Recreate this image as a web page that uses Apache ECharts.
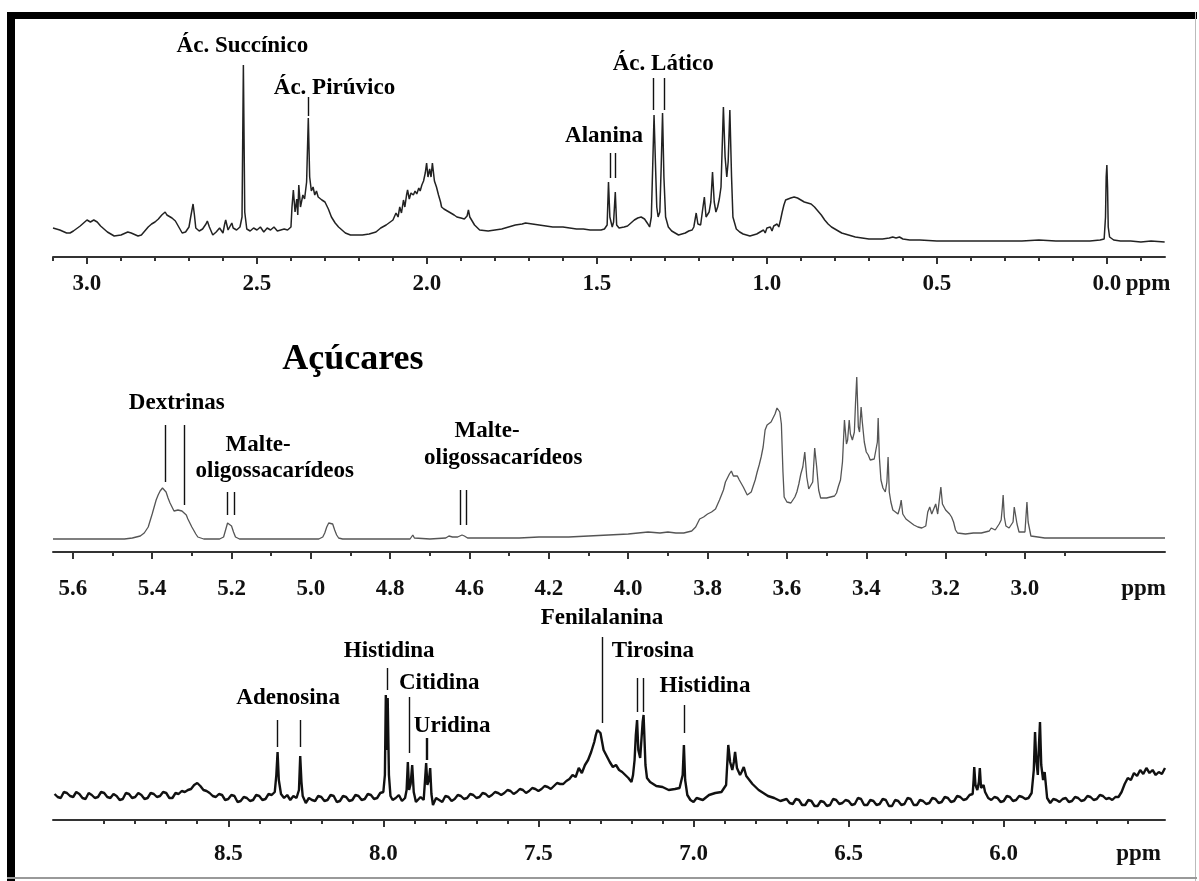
<!DOCTYPE html>
<html><head><meta charset="utf-8">
<script src="https://cdn.jsdelivr.net/npm/echarts@6.0.0/dist/echarts.min.js"></script>
<style>html,body{margin:0;padding:0;background:#fff}#c{width:1199px;height:881px}</style>
</head><body><div id="c"></div>
<script>
// ---------- Panel 1 (0 – 3 ppm) ----------
const spec1 = [[3.10,29],[3.08,27],[3.06,24],[3.05,24],[3.04,26],[3.02,31],[3.01,34],[3.00,37],[2.99,35],[2.98,37],[2.97,35],[2.96,31],[2.95,28],[2.94,25],[2.92,21],[2.90,22],[2.88,25],[2.87,24],[2.85,21],[2.84,22],[2.82,30],[2.81,33],[2.80,35],[2.79,38],[2.78,42],[2.77,45],[2.765,42],[2.76,44],[2.75,39],[2.74,36],[2.73,30],[2.72,24],[2.71,25],[2.70,30],[2.695,40],[2.688,53],[2.684,42],[2.68,29],[2.67,26],[2.66,28],[2.65,33],[2.646,36],[2.64,30],[2.63,22],[2.62,25],[2.61,29],[2.60,24],[2.595,33],[2.592,37],[2.585,27],[2.58,26],[2.574,34],[2.57,29],[2.56,27],[2.55,30],[2.544,40],[2.540,192],[2.536,45],[2.53,28],[2.52,26],[2.51,29],[2.50,27],[2.49,30],[2.48,25],[2.47,29],[2.46,27],[2.45,30],[2.44,26],[2.43,27],[2.42,28],[2.41,27],[2.40,30],[2.397,50],[2.393,67],[2.388,45],[2.383,58],[2.38,42],[2.377,72],[2.372,50],[2.365,62],[2.36,58],[2.354,75],[2.349,139],[2.345,80],[2.34,66],[2.335,70],[2.33,62],[2.325,66],[2.32,60],[2.315,62],[2.309,57],[2.30,55],[2.29,48],[2.281,40],[2.27,34],[2.26,30],[2.25,27],[2.24,24],[2.225,22],[2.21,22],[2.19,22],[2.17,23],[2.15,25],[2.136,29],[2.12,32],[2.10,37],[2.091,44],[2.085,40],[2.08,50],[2.075,44],[2.069,57],[2.065,50],[2.06,62],[2.057,67],[2.052,58],[2.047,64],[2.04,62],[2.035,66],[2.03,63],[2.024,69],[2.02,66],[2.015,72],[2.01,76],[2.005,84],[2.001,94],[1.997,80],[1.992,88],[1.988,80],[1.984,94],[1.978,76],[1.972,70],[1.966,62],[1.96,55],[1.957,50],[1.95,48],[1.94,46],[1.93,44],[1.92,42],[1.912,40],[1.90,39],[1.89,38],[1.882,41],[1.878,47],[1.874,40],[1.86,32],[1.845,27],[1.82,26],[1.80,27],[1.78,28],[1.76,30],[1.74,32],[1.72,33],[1.71,34],[1.69,33],[1.67,32],[1.65,31],[1.63,30],[1.60,30],[1.58,29],[1.56,28],[1.54,28],[1.52,27],[1.50,27],[1.488,27],[1.478,28],[1.47,32],[1.466,75],[1.462,40],[1.455,30],[1.451,35],[1.446,65],[1.442,32],[1.435,29],[1.43,28],[1.42,30],[1.41,31],[1.40,34],[1.39,37],[1.38,39],[1.37,40],[1.36,38],[1.35,33],[1.345,30],[1.34,40],[1.336,90],[1.332,142],[1.328,95],[1.324,50],[1.32,40],[1.315,45],[1.311,90],[1.307,144],[1.303,80],[1.298,40],[1.29,30],[1.28,26],[1.27,24],[1.26,22],[1.25,23],[1.24,24],[1.23,26],[1.22,27],[1.215,30],[1.208,44],[1.203,33],[1.195,32],[1.19,45],[1.184,60],[1.179,40],[1.175,38],[1.17,45],[1.165,55],[1.16,85],[1.155,55],[1.15,45],[1.145,50],[1.14,58],[1.135,70],[1.128,150],[1.123,100],[1.118,80],[1.114,95],[1.109,147],[1.104,80],[1.10,40],[1.09,28],[1.08,25],[1.07,23],[1.06,22],[1.05,21],[1.04,22],[1.03,23],[1.02,25],[1.01,27],[1.005,24],[1.00,29],[0.995,27],[0.99,30],[0.985,26],[0.98,31],[0.975,29],[0.97,33],[0.965,30],[0.96,37],[0.955,45],[0.95,52],[0.945,57],[0.94,58],[0.93,59],[0.92,60],[0.91,59],[0.90,57],[0.89,55],[0.88,54],[0.875,52],[0.87,53],[0.86,50],[0.85,46],[0.84,42],[0.83,37],[0.82,33],[0.81,30],[0.80,28],[0.79,26],[0.78,24],[0.76,22],[0.74,20],[0.72,19],[0.70,18],[0.68,18],[0.66,18],[0.64,19],[0.63,20],[0.62,19],[0.61,20],[0.60,18],[0.58,17],[0.55,17],[0.50,16],[0.45,16],[0.40,16],[0.35,16],[0.30,16],[0.25,16],[0.20,17],[0.15,16],[0.10,16],[0.05,16],[0.02,17],[0.008,18],[0.004,40],[0.002,80],[0.0,92],[-0.002,70],[-0.004,30],[-0.008,20],[-0.02,17],[-0.04,16],[-0.07,16],[-0.10,15],[-0.13,16],[-0.17,15]];
const marks1 = [[2.349,160,141],[1.460,104,79],[1.446,104,79],[1.335,179,147],[1.302,179,147]];
const names1 = [['Ác. Succínico',2.543,211],['Ác. Pirúvico',2.272,169],['Alanina',1.479,121],['Ác. Lático',1.305,193]];
const ticks1 = [3.0,2.5,2.0,1.5,1.0,0.5,0.0];
const minor1 = [3.1,2.9,2.8,2.7,2.6,2.4,2.3,2.2,2.1,1.9,1.8,1.7,1.6,1.4,1.3,1.2,1.1,0.9,0.8,0.7,0.6,0.4,0.3,0.2,0.1,-0.1];
const unit1 = -0.121;

// ---------- Panel 2 (açúcares) ----------
const spec2 = [[5.65,13],[5.60,13],[5.55,13],[5.50,13],[5.47,13],[5.45,14],[5.43,16],[5.42,19],[5.41,25],[5.40,38],[5.39,52],[5.385,57],[5.38,61],[5.374,64],[5.37,62],[5.365,60],[5.36,54],[5.355,49],[5.35,45],[5.345,41],[5.34,39],[5.335,42],[5.331,44],[5.325,41],[5.32,40],[5.314,37],[5.31,33],[5.30,25],[5.29,18],[5.285,15],[5.27,13],[5.25,13],[5.23,13],[5.22,15],[5.215,22],[5.21,29],[5.205,28],[5.20,26],[5.195,20],[5.19,15],[5.18,13],[5.12,13],[5.05,13],[4.98,13],[4.97,15],[4.965,19],[4.96,25],[4.955,29],[4.952,30],[4.945,28],[4.94,22],[4.935,17],[4.93,14],[4.92,13],[4.85,13],[4.80,13],[4.75,13],[4.746,15],[4.743,17],[4.739,14],[4.70,13],[4.66,14],[4.652,16],[4.648,18],[4.643,15],[4.63,15],[4.625,16],[4.619,17],[4.613,16],[4.605,14],[4.55,14],[4.45,14],[4.35,14],[4.25,15],[4.15,15],[4.10,16],[4.05,17],[4.00,18],[3.95,20],[3.92,19],[3.90,20],[3.88,19],[3.86,19],[3.84,21],[3.83,25],[3.82,33],[3.81,35],[3.80,38],[3.79,40],[3.78,43],[3.77,52],[3.76,62],[3.755,70],[3.75,72],[3.745,78],[3.74,81],[3.735,76],[3.73,74],[3.725,76],[3.72,72],[3.71,65],[3.70,57],[3.695,55],[3.69,60],[3.685,66],[3.68,72],[3.675,80],[3.67,87],[3.665,95],[3.66,105],[3.655,122],[3.65,127],[3.645,128],[3.64,130],[3.635,131],[3.63,138],[3.625,144],[3.622,146],[3.618,140],[3.614,128],[3.61,80],[3.607,55],[3.60,50],[3.595,51],[3.59,49],[3.58,55],[3.575,60],[3.57,68],[3.565,78],[3.56,85],[3.555,100],[3.55,75],[3.545,63],[3.54,62],[3.535,70],[3.53,104],[3.525,85],[3.52,62],[3.515,54],[3.51,52],[3.50,54],[3.495,52],[3.49,55],[3.48,56],[3.475,59],[3.47,66],[3.465,72],[3.46,90],[3.455,132],[3.45,108],[3.447,112],[3.443,132],[3.44,118],[3.435,112],[3.43,120],[3.427,150],[3.424,175],[3.42,125],[3.417,120],[3.413,145],[3.41,130],[3.405,110],[3.40,100],[3.395,97],[3.39,92],[3.385,90],[3.38,93],[3.375,95],[3.372,110],[3.37,134],[3.367,95],[3.363,72],[3.358,64],[3.352,60],[3.348,70],[3.345,95],[3.342,60],[3.338,50],[3.333,42],[3.328,40],[3.32,38],[3.315,45],[3.312,52],[3.308,38],[3.30,33],[3.29,30],[3.28,27],[3.27,25],[3.26,24],[3.25,26],[3.245,40],[3.24,45],[3.235,38],[3.23,40],[3.225,48],[3.22,38],[3.215,55],[3.212,65],[3.208,48],[3.20,42],[3.195,40],[3.19,38],[3.185,35],[3.18,30],[3.175,22],[3.17,19],[3.15,18],[3.13,19],[3.11,19],[3.10,20],[3.09,21],[3.085,24],[3.08,25],[3.075,22],[3.07,24],[3.065,28],[3.06,32],[3.057,45],[3.055,57],[3.052,35],[3.048,26],[3.04,24],[3.035,22],[3.03,30],[3.027,45],[3.024,45],[3.02,28],[3.015,20],[3.00,20],[2.998,32],[2.995,50],[2.992,30],[2.985,16],[2.98,14],[2.95,14],[2.90,14],[2.85,14],[2.80,14],[2.75,14],[2.70,14],[2.647,14]];
const marks2 = [[5.368,127,70],[5.320,127,47],[5.212,60,37],[5.194,60,37],[4.624,62,27],[4.609,62,27]];
const names2 = [['Dextrinas',5.338,149],['Malte-',5.133,107],['oligossacarídeos',5.091,81],['Malte-',4.512,121],['oligossacarídeos',4.43,94]];
const title2 = ['Açúcares',4.894,192];
const ticks2 = [5.6,5.4,5.2,5.0,4.8,4.6,4.2,4.0,3.8,3.6,3.4,3.2,3.0];
const minor2 = [5.5,5.3,5.1,4.9,4.7,4.4,4.1,3.9,3.7,3.5,3.3,3.1,2.9];
const unit2 = 2.701;

// ---------- Panel 3 (aromatic) ----------
const spec3 = [[9.06,26],[9.05,23],[9.04,22],[9.03,28],[9.02,27],[9.01,24],[9.00,23],[8.99,28],[8.98,26],[8.97,22],[8.96,21],[8.95,27],[8.94,25],[8.93,22],[8.92,23],[8.91,28],[8.90,27],[8.89,23],[8.88,22],[8.87,26],[8.86,24],[8.85,20],[8.84,21],[8.83,27],[8.82,26],[8.81,22],[8.80,23],[8.79,27],[8.78,25],[8.77,21],[8.76,22],[8.75,27],[8.74,26],[8.73,23],[8.72,24],[8.71,28],[8.70,27],[8.69,22],[8.68,22],[8.67,27],[8.66,26],[8.65,29],[8.64,28],[8.63,30],[8.62,31],[8.61,35],[8.60,37],[8.59,34],[8.58,30],[8.57,29],[8.56,27],[8.55,24],[8.54,23],[8.53,26],[8.52,25],[8.51,20],[8.50,21],[8.49,25],[8.48,24],[8.47,18],[8.46,19],[8.45,23],[8.44,22],[8.43,19],[8.42,20],[8.41,25],[8.40,24],[8.39,20],[8.38,21],[8.37,26],[8.36,25],[8.35,28],[8.345,45],[8.341,68],[8.337,40],[8.33,26],[8.32,22],[8.31,25],[8.30,20],[8.29,24],[8.28,22],[8.272,30],[8.268,64],[8.264,38],[8.26,24],[8.25,17],[8.24,22],[8.23,20],[8.22,19],[8.21,24],[8.20,23],[8.19,19],[8.18,20],[8.17,25],[8.16,24],[8.15,18],[8.14,19],[8.13,24],[8.12,23],[8.11,19],[8.10,20],[8.09,25],[8.08,24],[8.07,20],[8.06,21],[8.05,26],[8.04,25],[8.03,21],[8.02,22],[8.01,27],[8.00,28],[7.995,45],[7.992,125],[7.989,70],[7.986,122],[7.982,45],[7.977,24],[7.97,20],[7.96,22],[7.95,25],[7.94,19],[7.93,22],[7.925,30],[7.921,58],[7.917,30],[7.912,36],[7.907,55],[7.902,28],[7.895,18],[7.89,20],[7.88,23],[7.87,20],[7.866,38],[7.862,57],[7.858,35],[7.853,40],[7.849,52],[7.845,26],[7.84,15],[7.83,22],[7.82,20],[7.81,18],[7.80,24],[7.79,23],[7.78,19],[7.77,21],[7.76,25],[7.75,24],[7.74,21],[7.73,22],[7.72,26],[7.71,25],[7.70,22],[7.69,23],[7.68,27],[7.67,26],[7.66,23],[7.65,25],[7.64,28],[7.63,27],[7.62,25],[7.61,27],[7.60,30],[7.59,29],[7.58,26],[7.57,28],[7.56,31],[7.55,30],[7.54,27],[7.53,29],[7.52,32],[7.51,31],[7.50,29],[7.49,31],[7.48,34],[7.47,33],[7.46,31],[7.45,34],[7.44,37],[7.43,36],[7.42,36],[7.41,39],[7.40,41],[7.39,45],[7.38,43],[7.37,52],[7.36,47],[7.35,55],[7.34,60],[7.33,68],[7.32,78],[7.315,85],[7.31,90],[7.305,88],[7.30,87],[7.29,70],[7.28,64],[7.27,58],[7.26,53],[7.25,55],[7.24,50],[7.23,48],[7.22,45],[7.21,42],[7.20,38],[7.195,45],[7.19,60],[7.186,85],[7.182,100],[7.178,70],[7.172,62],[7.168,80],[7.164,98],[7.161,105],[7.155,55],[7.15,42],[7.14,38],[7.13,36],[7.12,34],[7.10,33],[7.08,30],[7.06,31],[7.045,32],[7.035,45],[7.031,75],[7.027,40],[7.02,25],[7.01,20],[7.00,18],[6.99,22],[6.97,20],[6.95,25],[6.93,27],[6.91,28],[6.895,35],[6.888,75],[6.882,58],[6.875,50],[6.87,58],[6.866,68],[6.86,52],[6.85,45],[6.845,48],[6.838,53],[6.83,44],[6.82,40],[6.81,36],[6.80,33],[6.79,30],[6.78,28],[6.76,24],[6.74,22],[6.72,19],[6.70,21],[6.69,17],[6.68,16],[6.67,21],[6.66,20],[6.65,15],[6.64,15],[6.63,20],[6.62,19],[6.61,14],[6.60,14],[6.59,19],[6.58,18],[6.57,14],[6.56,15],[6.55,21],[6.54,20],[6.53,16],[6.52,17],[6.51,20],[6.50,19],[6.49,15],[6.48,16],[6.47,22],[6.46,21],[6.45,15],[6.44,15],[6.43,20],[6.42,19],[6.41,15],[6.40,16],[6.39,21],[6.38,20],[6.37,14],[6.36,14],[6.35,20],[6.34,19],[6.33,15],[6.32,16],[6.31,22],[6.30,21],[6.29,15],[6.28,15],[6.27,20],[6.26,19],[6.25,16],[6.24,17],[6.23,22],[6.22,21],[6.21,17],[6.20,18],[6.19,23],[6.18,22],[6.17,18],[6.16,19],[6.15,24],[6.14,23],[6.13,20],[6.12,21],[6.11,25],[6.10,26],[6.097,40],[6.095,53],[6.091,35],[6.085,30],[6.08,38],[6.077,52],[6.073,32],[6.065,35],[6.06,28],[6.05,22],[6.04,20],[6.03,23],[6.02,22],[6.01,18],[6.00,19],[5.99,24],[5.98,23],[5.97,19],[5.96,20],[5.95,24],[5.94,23],[5.93,21],[5.92,22],[5.91,27],[5.903,50],[5.899,88],[5.895,60],[5.89,45],[5.887,70],[5.883,98],[5.879,55],[5.873,40],[5.868,48],[5.864,35],[5.86,22],[5.85,17],[5.84,21],[5.83,20],[5.82,18],[5.81,21],[5.80,22],[5.79,18],[5.78,19],[5.77,23],[5.76,22],[5.75,19],[5.74,20],[5.73,24],[5.72,23],[5.71,20],[5.70,21],[5.69,25],[5.68,24],[5.67,21],[5.66,22],[5.65,20],[5.64,23],[5.63,23],[5.62,28],[5.61,36],[5.60,42],[5.59,40],[5.58,47],[5.57,44],[5.56,50],[5.55,46],[5.54,52],[5.53,47],[5.52,50],[5.51,45],[5.50,48],[5.49,46],[5.48,52]];
const marks3 = [[8.341,100,73],[8.268,100,73],[7.989,152,130],[7.917,123,67],[7.863,82,60],[7.860,82,60],[7.295,183,97],[7.183,142,108],[7.161,142,108],[7.031,115,87]];
const names3 = [['Adenosina',8.307,122],['Histidina',7.981,169],['Citidina',7.820,137],['Uridina',7.778,94],['Fenilalanina',7.295,202],['Tirosina',7.131,169],['Histidina',6.963,134]];
const ticks3 = [8.5,8.0,7.5,7.0,6.5,6.0];
const minor3 = [8.9,8.8,8.7,8.6,8.4,8.3,8.2,8.1,7.9,7.8,7.7,7.6,7.4,7.3,7.2,7.1,6.9,6.8,6.7,6.6,6.4,6.3,6.2,6.1,5.9,5.8,5.7,5.6];
const unit3 = 5.565;

// broken scale of panel 2: the region between 4.6 and 4.2 ppm is compressed to one tick step
function brk(p){ if (p >= 4.6) return p; if (p >= 4.2) return 4.6 - (4.6 - p) / 2; return p + 0.2; }

const FONT = 'Liberation Serif';
const chart = echarts.init(document.getElementById('c'), null, {renderer:'canvas'});

function majorAxis(g, min, max, tickVals, tickLabs, unitVal, margin){
  const vals = tickVals.concat([unitVal]);
  const labs = tickLabs.concat(['ppm']);
  return {type:'value', gridIndex:g, min:min, max:max, inverse:true, position:'bottom',
    axisLine:{show:true, onZero:false, lineStyle:{color:'#333', width:2}},
    axisTick:{show:true, customValues:tickVals, length:7, lineStyle:{color:'#333', width:2}},
    axisLabel:{show:true, customValues:vals, margin:margin, color:'#111', fontFamily:FONT, fontWeight:'bold', fontSize:23,
      formatter:function(v){ for (let i=0;i<vals.length;i++){ if (Math.abs(vals[i]-v)<1e-6) return labs[i]; } return ''; }},
    splitLine:{show:false}, minorTick:{show:false}};
}
function minorAxis(g, min, max, vals){
  return {type:'value', gridIndex:g, min:min, max:max, inverse:true, position:'bottom',
    axisLine:{show:false, onZero:false}, axisLabel:{show:false}, splitLine:{show:false},
    axisTick:{show:true, customValues:vals, length:4, lineStyle:{color:'#333', width:2}}};
}
function yAx(g){ return {type:'value', gridIndex:g, min:0, max:240, show:false}; }

function specSeries(g, data, color, width){
  return {type:'line', xAxisIndex:2*g, yAxisIndex:g, data:data, symbol:'none', showSymbol:false, silent:true,
    lineStyle:{color:color, width:width, opacity:1}, z:2};
}
function markSeries(g, marks){
  return {type:'lines', coordinateSystem:'cartesian2d', xAxisIndex:2*g, yAxisIndex:g, silent:true, z:3,
    data: marks.map(m => ({coords:[[m[0], m[1]], [m[0], m[2]]]})),
    lineStyle:{color:'#111', width:1.4, opacity:1, curveness:0}};
}
function nameSeries(g, names, size){
  return {type:'scatter', xAxisIndex:2*g, yAxisIndex:g, silent:true, clip:false, symbolSize:1, z:4,
    itemStyle:{color:'rgba(255,255,255,0)', opacity:1},
    emphasis:{disabled:true},
    data: names.map(n => ({value:[n[1], n[2]], name:n[0]})),
    label:{show:true, position:'inside', formatter:'{b}', color:'#000', opacity:1, fontFamily:FONT, fontWeight:'bold', fontSize:size}};
}

const spec2p = spec2.map(d => [brk(d[0]), d[1]]);
const marks2p = marks2.map(m => [brk(m[0]), m[1], m[2]]);
const names2p = names2.map(n => [n[0], brk(n[1]), n[2]]);
const title2p = [[title2[0], brk(title2[1]), title2[2]]];

const option = {
  animation:false,
  backgroundColor:'#fff',
  grid:[
    {left:53, top:17, width:1112, height:240, outerBoundsMode:'none', containLabel:false},
    {left:53, top:312, width:1112, height:240, outerBoundsMode:'none', containLabel:false},
    {left:53, top:580, width:1112, height:240, outerBoundsMode:'none', containLabel:false}
  ],
  xAxis:[
    majorAxis(0, -0.171, 3.10, ticks1, ticks1.map(v => v.toFixed(1)), unit1, 16),
    minorAxis(0, -0.171, 3.10, minor1),
    majorAxis(1, brk(2.647), brk(5.65), ticks2.map(brk), ticks2.map(v => v.toFixed(1)), brk(unit2), 26),
    minorAxis(1, brk(2.647), brk(5.65), minor2.map(brk)),
    majorAxis(2, 5.48, 9.065, ticks3, ticks3.map(v => v.toFixed(1)), unit3, 23),
    minorAxis(2, 5.48, 9.065, minor3)
  ],
  yAxis:[yAx(0), yAx(1), yAx(2)],
  series:[
    specSeries(0, spec1, '#222', 1.5),
    markSeries(0, marks1),
    nameSeries(0, names1, 23),
    specSeries(1, spec2p, '#555', 1.3),
    markSeries(1, marks2p),
    nameSeries(1, names2p, 23),
    nameSeries(1, title2p, 36),
    specSeries(2, spec3, '#111', 2.4),
    markSeries(2, marks3),
    nameSeries(2, names3, 23)
  ],
  graphic:[
    {type:'rect', shape:{x:7, y:12, width:1190, height:7}, style:{fill:'#000'}, silent:true},
    {type:'rect', shape:{x:7, y:12, width:8, height:869}, style:{fill:'#000'}, silent:true},
    {type:'rect', shape:{x:1195, y:12, width:1, height:869}, style:{fill:'#bbb'}, silent:true},
    {type:'rect', shape:{x:7, y:877, width:1190, height:2}, style:{fill:'#999'}, silent:true}
  ]
};
chart.setOption(option);
</script></body></html>
